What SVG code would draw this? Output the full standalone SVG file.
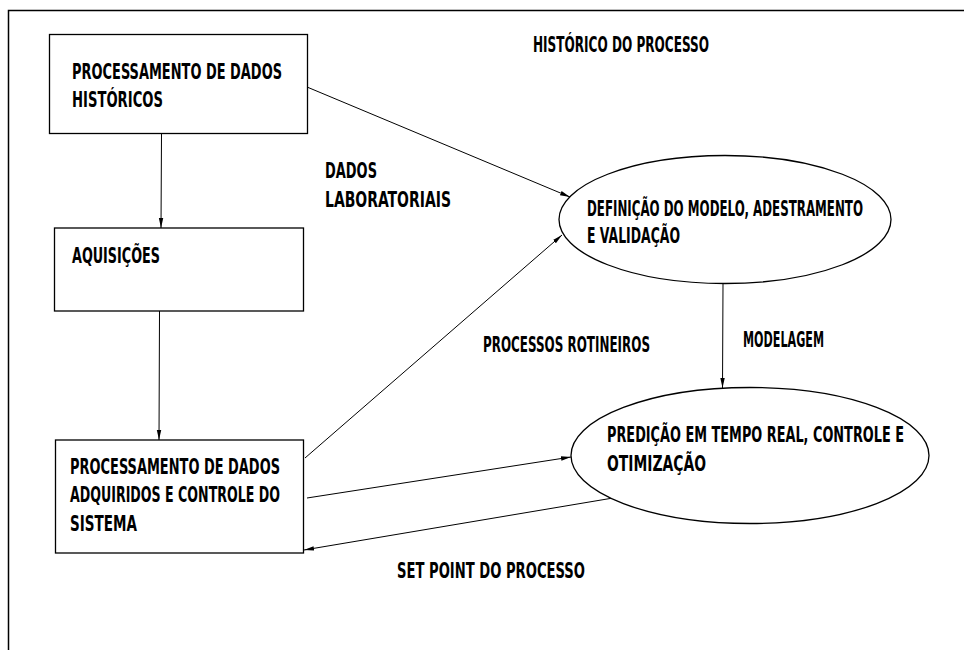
<svg xmlns="http://www.w3.org/2000/svg" width="964" height="650" viewBox="0 0 964 650">
<style>
.t{font-family:"DejaVu Sans Condensed","DejaVu Sans",sans-serif;font-weight:bold;font-size:15px;fill:#000}
.b{fill:#fff;stroke:#000;stroke-width:1.3}
.c{fill:none;stroke:#000;stroke-width:1}
</style>
<defs>
<marker id="ah" viewBox="0 0 10 6" refX="10" refY="3" markerWidth="10" markerHeight="6" markerUnits="userSpaceOnUse" orient="auto">
<path d="M0,0.8 L10,3 L0,5.2 z" fill="#000"/>
</marker>
</defs>
<rect x="0" y="0" width="964" height="650" fill="#fff"/>
<path d="M8.5,650 V10.5 H964" fill="none" stroke="#000" stroke-width="1.5"/>
<g id="connectors">
<line class="c" x1="161.5" y1="133" x2="161" y2="228" marker-end="url(#ah)"/>
<line class="c" x1="159.5" y1="311" x2="159" y2="440" marker-end="url(#ah)"/>
<line class="c" x1="307" y1="87" x2="570" y2="197" marker-end="url(#ah)"/>
<line class="c" x1="305" y1="458" x2="562" y2="235" marker-end="url(#ah)"/>
<line class="c" x1="307" y1="498" x2="571" y2="457" marker-end="url(#ah)"/>
<line class="c" x1="613" y1="498" x2="304" y2="550" marker-end="url(#ah)"/>
<line class="c" x1="723" y1="284" x2="722.5" y2="388" marker-end="url(#ah)"/>
</g>
<g id="historicos">
<rect class="b" x="49.5" y="34.5" width="258" height="99"/>
<text class="t" transform="translate(72,79) scale(1,1.4)" textLength="210" lengthAdjust="spacingAndGlyphs">PROCESSAMENTO DE DADOS</text>
<text class="t" transform="translate(72,107) scale(1,1.4)" textLength="91" lengthAdjust="spacingAndGlyphs">HISTÓRICOS</text>
</g>
<g id="aquisicoes">
<rect class="b" x="54.5" y="228" width="249" height="83"/>
<text class="t" transform="translate(72,263) scale(1,1.4)" textLength="88" lengthAdjust="spacingAndGlyphs">AQUISIÇÕES</text>
</g>
<g id="adquiridos">
<rect class="b" x="55.5" y="440" width="248" height="113"/>
<text class="t" transform="translate(70,474) scale(1,1.4)" textLength="210" lengthAdjust="spacingAndGlyphs">PROCESSAMENTO DE DADOS</text>
<text class="t" transform="translate(70,502) scale(1,1.4)" textLength="210" lengthAdjust="spacingAndGlyphs">ADQUIRIDOS E CONTROLE DO</text>
<text class="t" transform="translate(70,531) scale(1,1.4)" textLength="67" lengthAdjust="spacingAndGlyphs">SISTEMA</text>
</g>
<g id="definicao">
<ellipse class="b" cx="725" cy="219.5" rx="166" ry="64"/>
<text class="t" transform="translate(587,216) scale(1,1.4)" textLength="276" lengthAdjust="spacingAndGlyphs">DEFINIÇÃO DO MODELO, ADESTRAMENTO</text>
<text class="t" transform="translate(587,243) scale(1,1.4)" textLength="93" lengthAdjust="spacingAndGlyphs">E VALIDAÇÃO</text>
</g>
<g id="predicao">
<ellipse class="b" cx="750" cy="455.5" rx="179" ry="68"/>
<text class="t" transform="translate(607,442) scale(1,1.4)" textLength="297" lengthAdjust="spacingAndGlyphs">PREDIÇÃO EM TEMPO REAL, CONTROLE E</text>
<text class="t" transform="translate(607,471) scale(1,1.4)" textLength="99" lengthAdjust="spacingAndGlyphs">OTIMIZAÇÃO</text>
</g>
<g id="labels">
<text class="t" transform="translate(533,52) scale(1,1.4)" textLength="176" lengthAdjust="spacingAndGlyphs">HISTÓRICO DO PROCESSO</text>
<text class="t" transform="translate(325,178) scale(1,1.4)" textLength="52" lengthAdjust="spacingAndGlyphs">DADOS</text>
<text class="t" transform="translate(325,207) scale(1,1.4)" textLength="126" lengthAdjust="spacingAndGlyphs">LABORATORIAIS</text>
<text class="t" transform="translate(483,352) scale(1,1.4)" textLength="167" lengthAdjust="spacingAndGlyphs">PROCESSOS ROTINEIROS</text>
<text class="t" transform="translate(743,347) scale(1,1.4)" textLength="81" lengthAdjust="spacingAndGlyphs">MODELAGEM</text>
<text class="t" transform="translate(397,578) scale(1,1.4)" textLength="188" lengthAdjust="spacingAndGlyphs">SET POINT DO PROCESSO</text>
</g>
</svg>
